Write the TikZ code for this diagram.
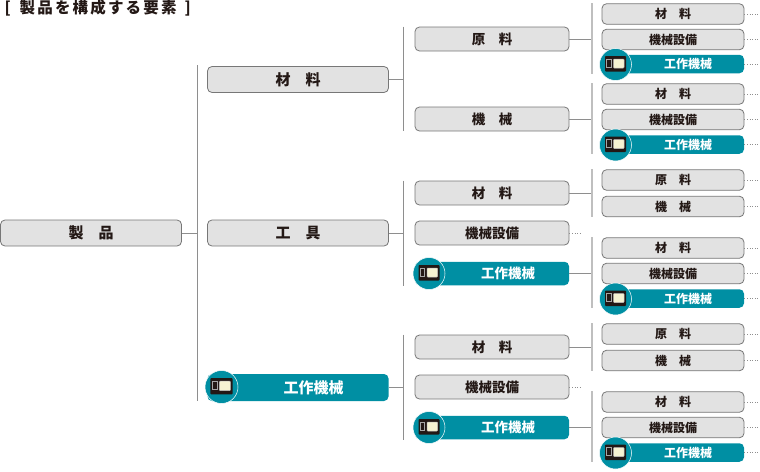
\documentclass[tikz,border=0pt]{standalone}
\usepackage{fontspec}
\setmainfont{Noto Sans CJK JP}[BoldFont={* Black}]
\usepackage{tikz}
\usetikzlibrary{positioning,calc}
\definecolor{tealbox}{HTML}{008FA3}
\definecolor{greybox}{HTML}{E2E2E2}
\definecolor{rimgrey}{HTML}{777777}
\definecolor{linegrey}{HTML}{8E8E8E}
\definecolor{inkdark}{HTML}{231815}
\definecolor{screenpale}{HTML}{F6F3D2}
\newcommand{\camicon}[2]{% camera badge: centre, scale
  \begin{scope}[shift={(#1)},scale=#2]
    \fill[inkdark,rounded corners=.8] (-10.5,-8.5) rectangle (10.5,7);
    \draw[gray!70,line width=.5pt] (-9,-5.5) rectangle (-4.5,2.5);
    \fill[screenpale,draw=gray!50,line width=.5pt,rounded corners=.8] (-2,-5.5) rectangle (8.5,3.5);
  \end{scope}}
\begin{document}
\begin{tikzpicture}[x=1pt,y=-1pt,
  font=\bfseries,
  base/.style={rounded corners=4.5pt,align=center,inner sep=0pt,text=inkdark},
  rootbox/.style={base,draw=rimgrey,fill=greybox,line width=.8pt,minimum width=181pt,minimum height=26pt,font=\bfseries\fontsize{15}{15}\selectfont},
  midbox/.style={base,draw=rimgrey,fill=greybox,line width=.8pt,minimum width=154pt,minimum height=24pt,font=\bfseries\fontsize{13.5}{13.5}\selectfont},
  leafbox/.style={base,draw=rimgrey,fill=greybox,line width=.8pt,minimum width=142pt,minimum height=20.5pt,font=\bfseries\fontsize{12}{12}\selectfont},
  toolmid/.style={midbox,draw=none,fill=tealbox,text=white,minimum height=23.5pt},
  toolleaf/.style={leafbox,draw=none,fill=tealbox,text=white,minimum height=18.5pt},
  toolroot/.style={rootbox,draw=none,fill=tealbox,text=white,minimum height=27pt},
  badge/.style={circle,fill=tealbox,draw=white,line width=.5pt,inner sep=0pt},
  wire/.style={linegrey,line width=.7pt},
  bar/.style={gray!50,line width=1.2pt},
  more/.style={dotted,linegrey,line width=.6pt}]
\useasboundingbox (0,0) rectangle (760,471);

\node[anchor=west,font=\bfseries\fontsize{15.5}{15.5}\selectfont,text=inkdark] (title) at (1,8)
  {\addfontfeature{LetterSpace=14}[\hspace{9pt}製品を構成する要素\hspace{8pt}]};

% left column
\node[rootbox] (prod) at (91,233) {製\quad 品};
\node[rootbox] (mat) at (298,79.5) {材\quad 料};
\node[rootbox] (tool) at (298,233) {工\quad 具};
\node[toolroot] (mach) at (298,387.5) {\hspace{31pt}工作機械};
\node[badge,minimum size=33pt] (machbadge) at (221.5,387) {};
\camicon{machbadge}{1.05}

% first bracket
\coordinate (top) at (197,65);
\coordinate (bot) at (197,401);
\draw[wire] (top) -- (bot);
\draw[wire] (prod.east) -- (prod.east -| top);

% middle column
\foreach \n/\y/\t in {a/39/原\quad 料, b/119/機\quad 械, c/193/材\quad 料, d/233/機械設備, g/347/材\quad 料, h/387/機械設備}
  \node[midbox] (m\n) at (492,\y) {\t};
\foreach \n/\y in {e/273.5, i/427.5} {
  \node[toolmid] (m\n) at (492,\y) {\hspace{32pt}工作機械};
  \node[badge,minimum size=32pt] (m\n badge) at (429,\y) {};
  \camicon{m\n badge}{1}
}

% second brackets
\foreach \p/\t/\b in {mat/ma/mb, tool/mc/me, mach/mg/mi} {
  \draw[wire] (\p.east) -- (403,0 |- \p.east);
  \draw[wire] (403,0 |- \t.north) -- (403,0 |- \b.south);
}
\foreach \n in {d,h} \draw[more] (m\n.east) -- ++(12,0);

% right column
\foreach \n/\y/\t in {aa/14/材\quad 料, ab/39.5/機械設備, ba/94/材\quad 料, bb/119.5/機械設備, ca/180/原\quad 料, cb/206.5/機\quad 械, ea/248/材\quad 料, eb/273.5/機械設備, ga/334/原\quad 料, gb/360.5/機\quad 械, ia/402/材\quad 料, ib/427.5/機械設備}
  \node[leafbox] (l\n) at (673,\y) {\t};
\foreach \n/\y in {ac/64, bc/144.5, ec/298.5, ic/452.5} {
  \node[toolleaf] (l\n) at (673,\y) {\hspace{30pt}工作機械};
  \node[badge,minimum size=32pt] (l\n badge) at (615.5,\y+.5) {};
  \camicon{l\n badge}{1}
}

% third brackets
\foreach \p/\t/\b in {ma/laa/lac, mb/lba/lbc, mc/lca/lcb, me/lea/lec, mg/lga/lgb, mi/lia/lic} {
  \draw[wire] (\p.east) -- (592,0 |- \p.east);
  \draw[bar] (592,0 |- \t.north) -- (592,0 |- \b.south);
}
\foreach \n in {aa,ab,ac,ba,bb,bc,ca,cb,ea,eb,ec,ga,gb,ia,ib,ic}
  \draw[more] (l\n.east) -- ++(16,0);
\end{tikzpicture}
\end{document}
